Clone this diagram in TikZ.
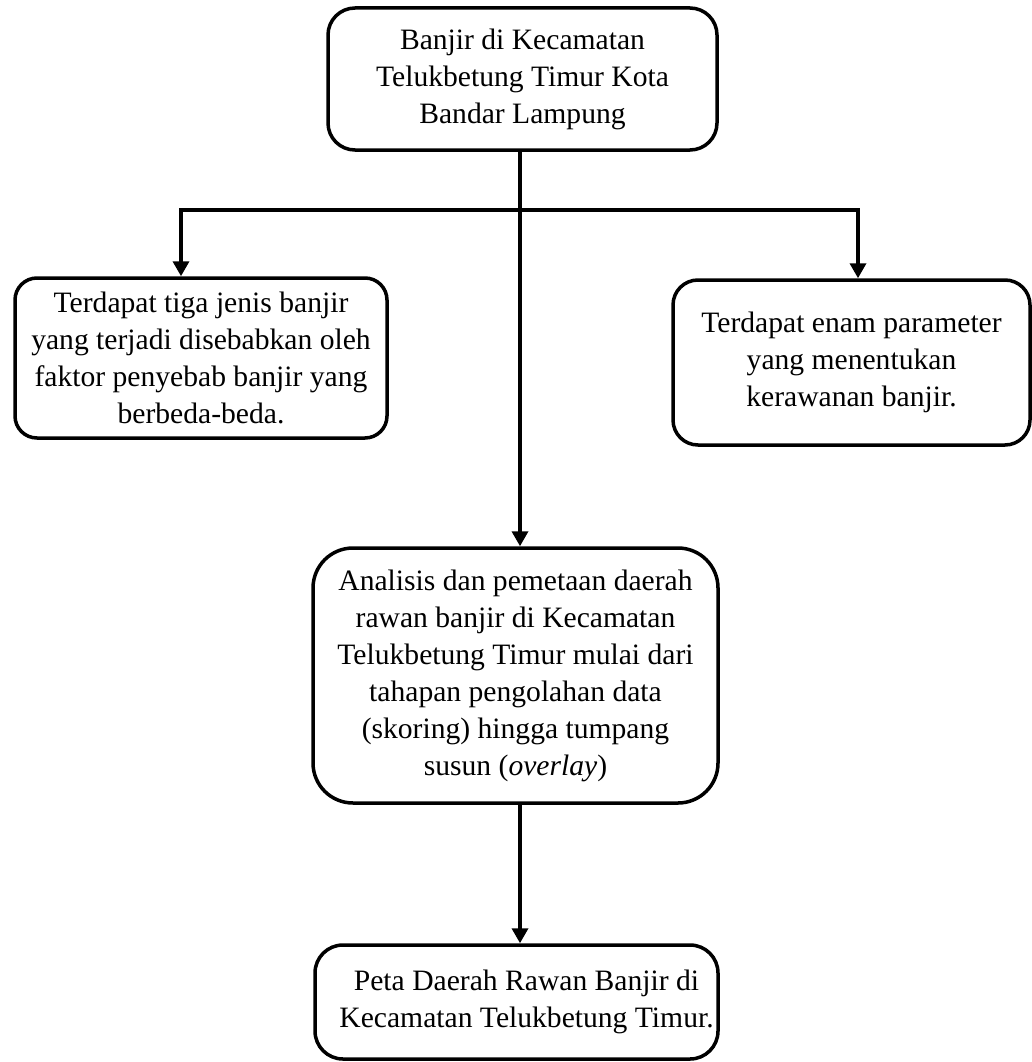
\documentclass[tikz,border=0pt]{standalone}
\usepackage{fontspec}
\setmainfont{Liberation Serif}
\usetikzlibrary{arrows.meta}
\begin{document}
\begin{tikzpicture}[x=1pt,y=-1pt,
  box/.style={draw=black, line width=3.5pt, fill=white, align=center, inner sep=0pt,
    font=\fontsize{29.6}{37}\selectfont},
  conn/.style={line width=3.5pt, line join=miter, -{Triangle[width=16pt,length=15pt]}},
  dconn/.style={line width=3.5pt, line join=miter, {Triangle[width=16pt,length=15pt]}-{Triangle[width=16pt,length=15pt]}}
]
\useasboundingbox (0,0) rectangle (1032,1062);
\fill[white] (0,0) rectangle (1032,1062);

\node[box, rounded corners=27pt, minimum width=389pt, minimum height=142pt] (top) at (522.5,79)
  {Banjir di Kecamatan\\Telukbetung Timur Kota\\Bandar Lampung};
\node[box, rounded corners=22pt, minimum width=372pt, minimum height=160pt] (left) at (201,358)
  {Terdapat tiga jenis banjir\\yang terjadi disebabkan oleh\\faktor penyebab banjir yang\\berbeda-beda.};
\node[box, rounded corners=25pt, minimum width=357pt, minimum height=165pt] (right) at (851.5,362.5)
  {Terdapat enam parameter\\yang menentukan\\kerawanan banjir.};
\node[box, rounded corners=40pt, minimum width=405pt, minimum height=255pt] (mid) at (515.5,675.5)
  {Analisis dan pemetaan daerah\\rawan banjir di Kecamatan\\Telukbetung Timur mulai dari\\tahapan pengolahan data\\(skoring) hingga tumpang\\susun (\textit{overlay})};
\node[box, rounded corners=28pt, minimum width=403pt, minimum height=114pt] (bot) at (516.5,1002)
  {\hspace*{20pt}Peta Daerah Rawan Banjir di\\\hspace*{20pt}Kecamatan Telukbetung Timur.};

\coordinate (spine) at (520,210);
\coordinate (hl) at (181,210);
\coordinate (hr) at (858,210);

\draw[conn] (top.south -| spine) -- (mid.north -| spine);
\draw[dconn] (hl |- left.north) -- (hl) -- (hr) -- (hr |- right.north);
\draw[conn] (mid.south -| spine) -- (bot.north -| spine);
\end{tikzpicture}
\end{document}
